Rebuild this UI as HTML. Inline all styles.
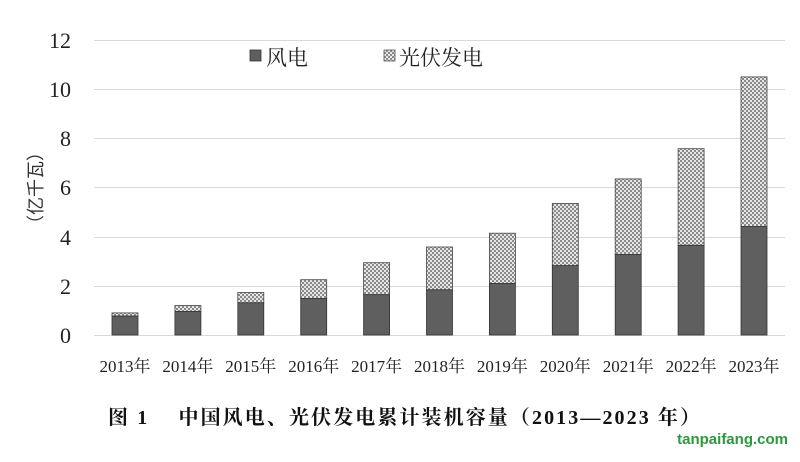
<!DOCTYPE html><html><head><meta charset="utf-8"><style>body{margin:0;background:#fff}</style></head><body>
<svg width="800" height="457" xmlns="http://www.w3.org/2000/svg" font-family="Liberation Serif, Noto Serif CJK SC, serif">
<defs><pattern id="p" width="4" height="4" patternUnits="userSpaceOnUse"><rect width="4" height="4" fill="#e6e6e6"/><rect width="2" height="2" fill="#8a8a8a"/><rect x="2" y="2" width="2" height="2" fill="#8a8a8a"/></pattern></defs>
<g stroke="#d9d9d9" stroke-width="1">
<line x1="94" x2="785" y1="40.5" y2="40.5"/><line x1="94" x2="785" y1="89.5" y2="89.5"/><line x1="94" x2="785" y1="138.5" y2="138.5"/><line x1="94" x2="785" y1="187.5" y2="187.5"/><line x1="94" x2="785" y1="237.5" y2="237.5"/><line x1="94" x2="785" y1="286.5" y2="286.5"/><line x1="94" x2="785" y1="335.5" y2="335.5"/>
</g>
<g font-size="22" fill="#222" text-anchor="end">
<text x="71" y="48">12</text><text x="71" y="97">10</text><text x="71" y="146">8</text><text x="71" y="195">6</text><text x="71" y="245">4</text><text x="71" y="294">2</text><text x="71" y="343">0</text>
</g>
<text transform="translate(42,188) rotate(-90)" font-size="18" fill="#333" text-anchor="middle" font-family="Noto Sans CJK SC, sans-serif">（亿千瓦）</text>
<g stroke-width="0.8">
<rect x="112" y="312.9" width="26" height="3.2" fill="url(#p)" stroke="#444"/><rect x="112" y="316.1" width="26" height="18.9" fill="#5f5f5f" stroke="#333"/>
<rect x="174.9" y="305.5" width="26" height="5.9" fill="url(#p)" stroke="#444"/><rect x="174.9" y="311.4" width="26" height="23.6" fill="#5f5f5f" stroke="#333"/>
<rect x="237.8" y="292.5" width="26" height="10.3" fill="url(#p)" stroke="#444"/><rect x="237.8" y="302.8" width="26" height="32.2" fill="#5f5f5f" stroke="#333"/>
<rect x="300.7" y="279.7" width="26" height="18.7" fill="url(#p)" stroke="#444"/><rect x="300.7" y="298.4" width="26" height="36.6" fill="#5f5f5f" stroke="#333"/>
<rect x="363.6" y="262.7" width="26" height="32" fill="url(#p)" stroke="#444"/><rect x="363.6" y="294.7" width="26" height="40.3" fill="#5f5f5f" stroke="#333"/>
<rect x="426.5" y="247" width="26" height="42.8" fill="url(#p)" stroke="#444"/><rect x="426.5" y="289.8" width="26" height="45.2" fill="#5f5f5f" stroke="#333"/>
<rect x="489.4" y="233.2" width="26" height="50.2" fill="url(#p)" stroke="#444"/><rect x="489.4" y="283.4" width="26" height="51.6" fill="#5f5f5f" stroke="#333"/>
<rect x="552.3" y="203.5" width="26" height="62.2" fill="url(#p)" stroke="#444"/><rect x="552.3" y="265.7" width="26" height="69.3" fill="#5f5f5f" stroke="#333"/>
<rect x="615.2" y="178.9" width="26" height="75.5" fill="url(#p)" stroke="#444"/><rect x="615.2" y="254.4" width="26" height="80.6" fill="#5f5f5f" stroke="#333"/>
<rect x="678.1" y="148.7" width="26" height="96.6" fill="url(#p)" stroke="#444"/><rect x="678.1" y="245.3" width="26" height="89.7" fill="#5f5f5f" stroke="#333"/>
<rect x="741" y="76.9" width="26" height="149.7" fill="url(#p)" stroke="#444"/><rect x="741" y="226.6" width="26" height="108.4" fill="#5f5f5f" stroke="#333"/>
</g>
<g font-size="17" fill="#222" text-anchor="middle">
<text x="125" y="372">2013年</text><text x="187.9" y="372">2014年</text><text x="250.8" y="372">2015年</text><text x="313.7" y="372">2016年</text><text x="376.6" y="372">2017年</text><text x="439.5" y="372">2018年</text><text x="502.4" y="372">2019年</text><text x="565.3" y="372">2020年</text><text x="628.2" y="372">2021年</text><text x="691.1" y="372">2022年</text><text x="754" y="372">2023年</text>
</g>
<rect x="250" y="50" width="11" height="11" fill="#5f5f5f" stroke="#333" stroke-width="0.8"/>
<text x="266" y="65" font-size="21" fill="#222" font-family="Noto Serif CJK SC, serif">风电</text>
<rect x="384" y="50" width="11" height="11" fill="url(#p)" stroke="#555" stroke-width="0.8"/>
<text x="399" y="65" font-size="21" fill="#222" font-family="Noto Serif CJK SC, serif">光伏发电</text>
<text x="108" y="424" font-size="20" font-weight="bold" fill="#111" textLength="592" lengthAdjust="spacing">图 1　 中国风电、光伏发电累计装机容量（2013—2023 年）</text>
<text x="788" y="444" font-size="15" font-weight="bold" fill="#2a9a3a" text-anchor="end" font-family="Liberation Sans, sans-serif">tanpaifang.com</text>
</svg></body></html>
